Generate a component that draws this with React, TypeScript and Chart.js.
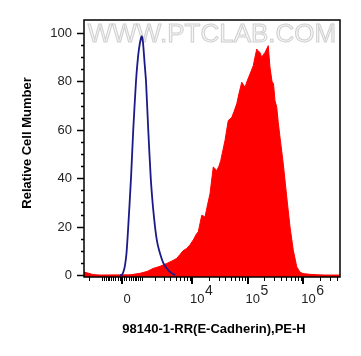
import React, { useEffect, useRef } from "react";
import { Chart, registerables } from "chart.js";

Chart.register(...registerables);

// ---- data (x in display channels 0..1024 of the biexponential PE-H axis, y = relative cell count)
const redChannels = [0, 16, 32, 48, 64, 184, 224, 252, 276, 304, 331, 352, 371, 384, 396, 411, 424, 437, 451, 457, 471, 484, 492, 504, 517, 531, 540, 547, 564, 577, 591, 600, 611, 620, 631, 644, 654, 664, 677, 684, 691, 696, 704, 711, 717, 724, 737, 744, 752, 758, 764, 771, 777, 784, 797, 811, 824, 837, 851, 864, 876, 904, 936, 964, 1024];
const redCounts = [1.2, 0.8, 0.3, 0.1, 0, 0.1, 0.7, 1.5, 2.7, 3.6, 4.8, 5.8, 6.9, 8.5, 10, 11, 12.5, 14.5, 17.2, 17.8, 24.7, 24, 28, 33.6, 44.6, 43.2, 45, 47.3, 55.6, 63.8, 65.1, 67.5, 70.7, 75, 79.6, 77.5, 80.5, 83, 86.4, 90, 93.3, 92.5, 91.9, 89.8, 91, 91.9, 94.7, 85.7, 80, 79, 72, 69.3, 63, 56.9, 46, 32.2, 19.9, 10.3, 3.4, 1.2, 0.6, 0.3, 0.1, 0, 0];

const blueChannels = [144, 151, 158, 164, 170, 177, 188, 197, 208, 216, 224, 231, 236, 242, 248, 257, 267, 276, 284, 292, 301, 317, 337, 352, 364];
const blueCounts = [0, 0, 1.5, 4, 9, 20, 40, 60, 80, 90, 96, 98.6, 96, 88, 80, 60, 40, 28, 20, 14, 10, 5, 2, 0.7, 0];

const yTickValues = [0, 20, 40, 60, 80, 100];
const xTickValues = [0, 1e4, 1e5, 1e6];
const xTickBases = ["0", "10", "10", "10"];
const xTickExps = ["", "4", "5", "6"];

const xTitle = "98140-1-RR(E-Cadherin),PE-H";
const yTitle = "Relative Cell Mumber";
const watermark = "WWW.PTCLAB.COM";

// biexponential display transform (intensity -> channel)
const BIEX_W = 1100;
const CH0 = 152;
const CH_SCALE = 96.56;
const toChannel = (v: number) => CH0 + CH_SCALE * Math.asinh(v / BIEX_W);

const FONT = '"Liberation Sans", Arial, sans-serif';

const axesPlugin = {
  id: "flowAxes",
  beforeDatasetsDraw(chart: any) {
    const { ctx, chartArea } = chart;
    ctx.save();
    ctx.font = `26px ${FONT}`;
    ctx.textAlign = "center";
    ctx.textBaseline = "alphabetic";
    const cx = (chartArea.left + chartArea.right) / 2;
    ctx.fillStyle = "rgba(245,245,245,0.9)";
    ctx.strokeStyle = "rgba(200,200,200,0.85)";
    ctx.lineWidth = 1;
    ctx.fillText(watermark, cx, chartArea.top + 22);
    ctx.strokeText(watermark, cx, chartArea.top + 22);
    ctx.restore();
  },
  afterDraw(chart: any) {
    const { ctx, chartArea } = chart;
    const { left, right, top, bottom } = chartArea;
    const xs = chart.scales.x;
    const ys = chart.scales.y;
    ctx.save();
    // frame
    ctx.strokeStyle = "#000";
    ctx.lineWidth = 1.5;
    ctx.strokeRect(left, top, right - left, bottom - top);

    // y ticks
    ctx.lineWidth = 1.5;
    for (let v = 0; v <= 100; v += 5) {
      const py = Math.round(ys.getPixelForValue(v)) + 0.5;
      const major = v % 20 === 0;
      ctx.beginPath();
      ctx.moveTo(left - (major ? 7 : 3), py);
      ctx.lineTo(left, py);
      ctx.stroke();
    }
    ctx.fillStyle = "#222";
    ctx.font = `13px ${FONT}`;
    ctx.textAlign = "right";
    ctx.textBaseline = "middle";
    yTickValues.forEach((v) => {
      ctx.fillText(String(v), left - 12, ys.getPixelForValue(v) + 0.5);
    });

    // x ticks (minor)
    const minors: number[] = [];
    for (let d = 2; d <= 6; d++) {
      for (let k = 1; k <= 9; k++) {
        const v = k * Math.pow(10, d);
        if (!xTickValues.includes(v)) minors.push(v);
        if (d <= 3) minors.push(-v);
      }
    }
    ctx.lineWidth = 1;
    minors.forEach((v) => {
      const px = xs.getPixelForValue(toChannel(v));
      if (px < left + 1 || px > right - 1) return;
      const rx = Math.round(px) + 0.5;
      ctx.beginPath();
      ctx.moveTo(rx, bottom);
      ctx.lineTo(rx, bottom + 4);
      ctx.stroke();
    });
    ctx.lineWidth = 2;
    xTickValues.forEach((v) => {
      const px = Math.round(xs.getPixelForValue(toChannel(v)));
      ctx.beginPath();
      ctx.moveTo(px, bottom);
      ctx.lineTo(px, bottom + 7);
      ctx.stroke();
    });

    // x labels
    ctx.textBaseline = "alphabetic";
    xTickValues.forEach((v, i) => {
      const px = xs.getPixelForValue(toChannel(v));
      ctx.font = `13px ${FONT}`;
      if (!xTickExps[i]) {
        ctx.textAlign = "center";
        ctx.fillText(xTickBases[i], px + 5, bottom + 26);
      } else {
        ctx.textAlign = "left";
        const x0 = px - 2;
        ctx.fillText(xTickBases[i], x0, bottom + 26);
        const w = ctx.measureText(xTickBases[i]).width;
        ctx.font = `14px ${FONT}`;
        ctx.fillText(xTickExps[i], x0 + w + 0.5, bottom + 18);
      }
    });

    // titles
    ctx.fillStyle = "#000";
    ctx.font = `bold 13px ${FONT}`;
    ctx.textAlign = "center";
    ctx.textBaseline = "middle";
    ctx.fillText(xTitle, 214, 329);
    ctx.translate(27, 143);
    ctx.rotate(-Math.PI / 2);
    ctx.fillText(yTitle, 0, 0);
    ctx.restore();
  },
};

export default function App() {
  const canvasRef = useRef<HTMLCanvasElement | null>(null);

  useEffect(() => {
    document.body.style.margin = "0";
    const canvas = canvasRef.current;
    if (!canvas) return;
    const chart = new Chart(canvas, {
      type: "line",
      data: {
        datasets: [
          {
            label: "Control",
            data: blueChannels.map((x, i) => ({ x, y: blueCounts[i] })),
            borderColor: "#1a1a88",
            borderWidth: 1.8,
            fill: false,
            pointRadius: 0,
            tension: 0.2,
            order: 0,
          },
          {
            label: "E-Cadherin",
            data: redChannels.map((x, i) => ({ x, y: redCounts[i] })),
            borderColor: "#ff0000",
            backgroundColor: "#ff0000",
            borderWidth: 1,
            fill: "start",
            pointRadius: 0,
            tension: 0,
            order: 1,
          },
        ],
      },
      options: {
        animation: false,
        responsive: false,
        devicePixelRatio: 1,
        layout: { padding: { left: 84, right: 21, top: 20, bottom: 79 } },
        scales: {
          x: { type: "linear", min: 0, max: 1024, display: false },
          y: { type: "linear", min: -0.8, max: 105.3, display: false },
        },
        plugins: { legend: { display: false }, tooltip: { enabled: false } },
      },
      plugins: [axesPlugin],
    });
    return () => chart.destroy();
  }, []);

  return (
    <div style={{ position: "absolute", left: 0, top: 0, width: 361, height: 356, background: "#fff" }}>
      <canvas ref={canvasRef} width={361} height={356} />
    </div>
  );
}
